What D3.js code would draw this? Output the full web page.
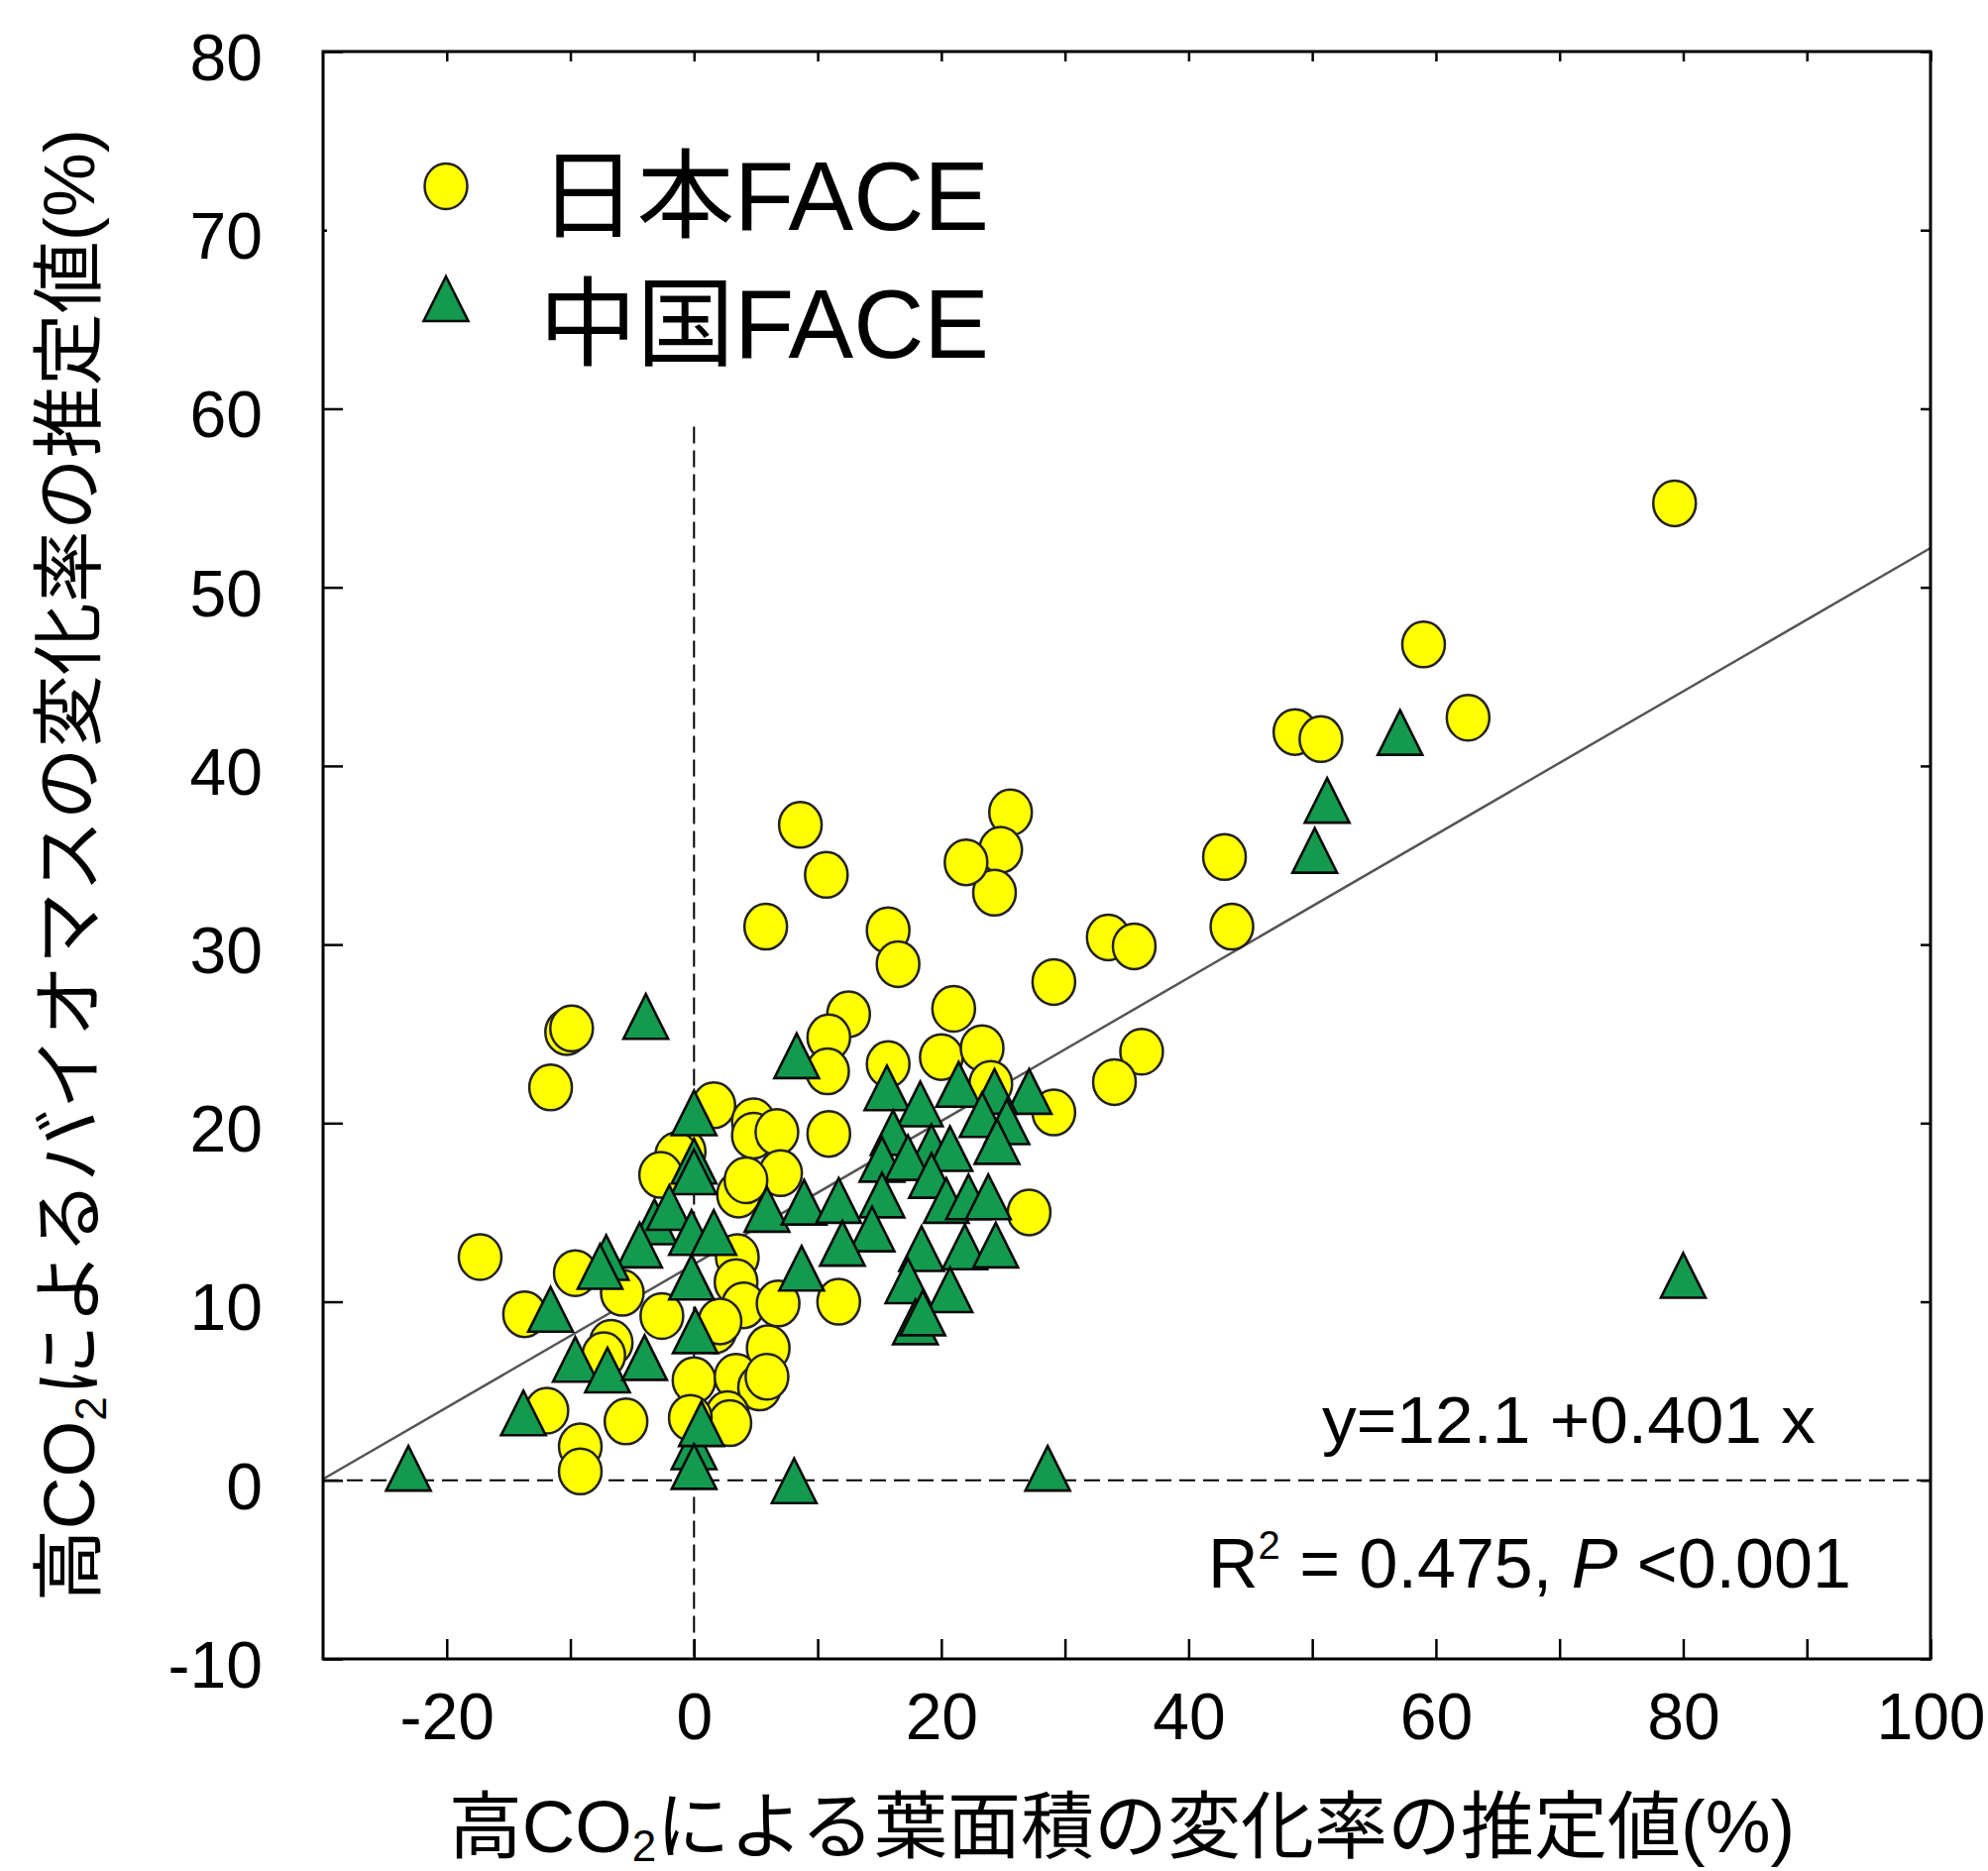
<!DOCTYPE html>
<html>
<head>
<meta charset="utf-8">
<script src="https://cdn.jsdelivr.net/npm/d3@7"></script>
<style>
body{margin:0;background:#fff}
svg{display:block}
text{font-family:"Liberation Sans",Arial,"Noto Sans CJK JP",sans-serif}
</style>
</head>
<body>
<svg id="chart"></svg>
<script>
let svgWidth = 2006, svgHeight = 1888

// 日本FACE (circles)
const japanX = [79.3,59.0,62.6,48.6,50.7,42.9,43.5,33.5,35.6,29.1,36.2,34.0,29.1,27.1,
  25.6,24.8,24.3,22.0,21.0,20.0,23.3,24.0,15.7,8.6,10.7,5.8,15.7,16.5,12.5,10.9,10.8,10.9,11.7,
  -10.3,-9.9,-11.6,-17.3,-9.6,-13.7,-5.8,-2.6,-6.7,-7.3,-11.9,-9.2,-9.2,-5.5,
  1.6,4.8,4.8,6.7,-0.8,-1.4,-2.7,7.0,3.6,4.2,3.5,3.4,4.0,6.8,1.7,2.1,6.0,0.0,3.4,5.3,5.9,2.7,2.9,-0.3]
const japanY = [54.7,46.8,42.7,41.9,41.5,34.9,31.0,30.4,29.9,27.9,24.0,22.3,20.6,15.0,
  37.4,35.3,32.9,34.6,26.4,23.7,24.2,22.2,23.3,36.7,33.9,31.0,30.8,28.9,26.1,24.8,22.9,19.4,10.0,
  25.1,25.3,22.0,12.5,11.6,9.3,10.5,9.2,7.7,7.0,3.9,1.9,0.5,3.3,
  21.0,20.1,19.3,19.5,18.4,18.2,17.1,17.2,16.0,16.8,12.5,11.1,9.8,9.9,8.4,8.9,7.4,5.6,5.8,5.2,5.8,3.7,3.2,3.5]

// 中国FACE (triangles)
const chinaX = [80.0,57.1,51.2,50.2,27.1,15.6,18.3,21.4,24.3,16.1,19.2,23.3,25.3,24.5,20.7,15.2,17.3,19.2,
  15.2,20.4,22.2,23.8,14.4,18.4,21.9,24.4,17.3,20.7,17.9,18.5,8.3,-3.9,0,0,0,5.9,8.9,11.7,12.0,8.7,
  -3.2,-2.0,-4.4,-0.2,1.6,-0.2,0.1,-7.1,-7.6,-11.6,-9.6,-7.0,-4.0,-13.8,0,0.6,0,8.1,-23.1,28.6]
const chinaY = [11.5,41.9,38.1,35.3,21.8,22.0,21.1,22.2,21.8,19.5,18.7,20.5,20.1,19.0,18.6,18.0,18.1,17.1,
  16.0,15.7,15.9,15.9,14.1,13.0,13.1,13.2,11.2,10.7,8.9,9.4,23.8,26.0,20.6,17.9,17.3,15.2,15.6,15.7,13.3,11.9,
  14.5,15.3,13.2,13.9,13.9,11.4,8.4,12.5,12.0,9.6,6.8,6.2,6.9,3.8,1.9,3.2,0.8,0.0,0.7,0.7]

const xTicks = [-20,-10,0,10,20,30,40,50,60,70,80,90,100]
const yTicks = [-10,0,10,20,30,40,50,60,70,80]
const fitA = 12.1, fitB = 0.401

let svg = d3.select('#chart').attr('width', svgWidth).attr('height', svgHeight)
svg.append('rect').attr('width', svgWidth).attr('height', svgHeight).attr('fill', '#fff')

let x = d3.scaleLinear().domain([-30, 100]).range([326, 1948])
let y = d3.scaleLinear().domain([-10, 80]).range([1674, 52])

// reference lines
svg.append('line')
  .attr('x1', x(-30)).attr('x2', x(100)).attr('y1', y(0)).attr('y2', y(0))
  .attr('stroke', '#000').attr('stroke-width', 2).attr('stroke-dasharray', '16,8')
svg.append('line')
  .attr('x1', x(0)).attr('x2', x(0)).attr('y1', y(59)).attr('y2', y(-10))
  .attr('stroke', '#000').attr('stroke-width', 2).attr('stroke-dasharray', '17,7')

// regression line
svg.append('line')
  .attr('x1', x(-30)).attr('y1', y(fitA + fitB * -30))
  .attr('x2', x(100)).attr('y2', y(fitA + fitB * 100))
  .attr('stroke', '#555').attr('stroke-width', 2.5)

const circleStyle = el => el.attr('rx', 21.5).attr('ry', 23)
  .attr('fill', '#ffff00').attr('stroke', '#222').attr('stroke-width', 2.5)
const triPath = 'M0,-22L22.5,23L-22.5,23Z'
const triStyle = el => el.attr('d', triPath)
  .attr('fill', '#139a4f').attr('stroke', '#0a0a0a').attr('stroke-width', 2.6)

svg.append('g').selectAll('ellipse').data(japanX)
  .enter().append('ellipse')
  .attr('cx', d => x(d)).attr('cy', (d, i) => y(japanY[i]))
  .call(circleStyle)

svg.append('g').selectAll('path').data(chinaX)
  .enter().append('path')
  .attr('transform', (d, i) => `translate(${x(d)},${y(chinaY[i])})`)
  .call(triStyle)

// frame
svg.append('rect')
  .attr('x', x(-30)).attr('y', y(80))
  .attr('width', x(100) - x(-30)).attr('height', y(-10) - y(80))
  .attr('fill', 'none').attr('stroke', '#000').attr('stroke-width', 3)

const styleAxis = g => {
  g.select('.domain').remove()
  g.selectAll('line').attr('stroke', '#000').attr('stroke-width', 2.5)
  g.attr('font-size', 66).attr('font-family', '"Liberation Sans", Arial, sans-serif')
  g.selectAll('text').attr('fill', '#000')
}

let gx = svg.append('g').attr('transform', `translate(0,${y(-10)})`)
  .call(d3.axisBottom(x).tickValues(xTicks).tickSizeInner(-20).tickSizeOuter(0)
    .tickPadding(34).tickFormat(d => d % 20 === 0 ? d : ''))
styleAxis(gx)

let gy = svg.append('g').attr('transform', `translate(${x(-30)},0)`)
  .call(d3.axisLeft(y).tickValues(yTicks).tickSizeInner(-20).tickSizeOuter(0)
    .tickPadding(61).tickFormat(d => d))
styleAxis(gy)
gy.selectAll('text').attr('dy', '0.43em')
gy.selectAll('.tick').filter(d => d === 70).select('line').attr('x2', 4)

let gt = svg.append('g').attr('transform', `translate(0,${y(80)})`)
  .call(d3.axisTop(x).tickValues(xTicks).tickSizeInner(-10).tickSizeOuter(0).tickFormat(''))
styleAxis(gt)

let gr = svg.append('g').attr('transform', `translate(${x(100)},0)`)
  .call(d3.axisRight(y).tickValues(yTicks).tickSizeInner(-10).tickSizeOuter(0).tickFormat(''))
styleAxis(gr)

// legend
svg.append('ellipse').attr('cx', 450).attr('cy', 188).call(circleStyle)
svg.append('path').attr('transform', 'translate(450,301)').call(triStyle)
svg.append('text').attr('x', 544).attr('y', 232).attr('font-size', 98)
  .attr('textLength', 454).attr('lengthAdjust', 'spacingAndGlyphs').text('日本FACE')
svg.append('text').attr('x', 544).attr('y', 361).attr('font-size', 98)
  .attr('textLength', 454).attr('lengthAdjust', 'spacingAndGlyphs').text('中国FACE')

// fit annotations
svg.append('text').attr('x', 1334).attr('y', 1456).attr('font-size', 66)
  .attr('textLength', 498).attr('lengthAdjust', 'spacingAndGlyphs')
  .text(`y=${fitA} +${fitB} x`)
let r2 = svg.append('text').attr('x', 1219).attr('y', 1602).attr('font-size', 70)
r2.append('tspan').text('R')
r2.append('tspan').attr('font-size', 40).attr('dy', -29).text('2')
r2.append('tspan').attr('dy', 29).text(' = 0.475, ')
r2.append('tspan').attr('font-style', 'italic').text('P')
r2.append('tspan').text(' <0.001')

// axis titles
let xt = svg.append('text').attr('x', 1132).attr('y', 1869).attr('font-size', 74)
  .attr('text-anchor', 'middle')
xt.append('tspan').text('高CO')
xt.append('tspan').attr('font-size', 44).attr('dy', 9).text('2')
xt.append('tspan').attr('dy', -9).text('による葉面積の変化率の推定値(%)')

let yt = svg.append('text').attr('transform', 'translate(95,873) rotate(-90)').attr('font-size', 73)
  .attr('text-anchor', 'middle')
yt.append('tspan').text('高CO')
yt.append('tspan').attr('font-size', 44).attr('dy', 12).text('2')
yt.append('tspan').attr('dy', -12).text('によるバイオマスの変化率の推定値(%)')
</script>
</body>
</html>
